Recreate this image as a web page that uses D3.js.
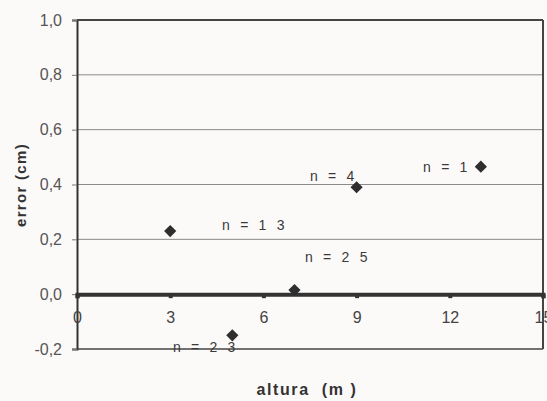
<html>
<head>
  <meta charset="utf8">
  <style>
  * { margin: 0; padding: 0; }
  body { background: #fcf9f9; }
  text { font-family: "Liberation Sans", Arial, sans-serif; }
  </style>
</head>
<body>
  <script src="https://cdn.jsdelivr.net/npm/d3@7"></script>
  <script>
  //Data
  var altura = [3, 5, 7, 9, 13];
  var errorCm = [0.23, -0.15, 0.015, 0.39, 0.465];
  var nLabels = ["n = 1 3", "n = 2 3", "n = 2 5", "n = 4", "n = 1"];
  var labelX = [4.67, 3.09, 7.34, 7.5, 11.14];     //label anchor in data units
  var labelY = [0.252, -0.193, 0.135, 0.43, 0.463];
  var xTicks = [0, 3, 6, 9, 12, 15];
  var yTicks = [-0.2, 0, 0.2, 0.4, 0.6, 0.8, 1.0];

  var w = 547, h = 401;
  var plotL = 77, plotR = 543, plotT = 20, plotB = 349;

  var xScale = d3.scaleLinear().domain([0, 15]).range([plotL, plotR]);
  var yScale = d3.scaleLinear().domain([-0.2, 1.0]).range([plotB, plotT]);

  var svg = d3.select("body").append("svg")
    .attr("width", w)
    .attr("height", h);

  //Gridlines
  svg.append("g")
    .selectAll("line")
    .data([0.2, 0.4, 0.6, 0.8])
    .enter().append("line")
    .attr("x1", plotL).attr("x2", plotR)
    .attr("y1", function(d) { return yScale(d); })
    .attr("y2", function(d) { return yScale(d); })
    .attr("stroke", "#8a8a8a")
    .attr("stroke-width", 1);

  //Y axis
  var yAxis = d3.axisLeft(yScale)
    .tickValues(yTicks)
    .tickSize(5)
    .tickFormat(function(d) { return d3.format(".1f")(d).replace(".", ",").replace("−", "-"); });
  var gy = svg.append("g")
    .attr("transform", "translate(" + plotL + ",0)")
    .call(yAxis);
  gy.select(".domain").attr("stroke", "#333").attr("stroke-width", 2);
  gy.selectAll(".tick line").attr("stroke", "#777");
  gy.selectAll(".tick text")
    .attr("x", -15)
    .attr("fill", "#555")
    .style("font-size", "16px")
    .style("font-family", "Liberation Sans, Arial, sans-serif");

  //Frame: top, right, bottom
  svg.append("line").attr("x1", plotL).attr("x2", plotR).attr("y1", plotT).attr("y2", plotT)
    .attr("stroke", "#444").attr("stroke-width", 2);
  svg.append("line").attr("x1", plotR).attr("x2", plotR).attr("y1", plotT).attr("y2", plotB)
    .attr("stroke", "#444").attr("stroke-width", 2);
  svg.append("line").attr("x1", plotL).attr("x2", plotR).attr("y1", plotB).attr("y2", plotB)
    .attr("stroke", "#444").attr("stroke-width", 1.5);

  //X axis at zero
  var xAxis = d3.axisBottom(xScale)
    .tickValues(xTicks)
    .tickSize(4)
    .tickPadding(13);
  var gx = svg.append("g")
    .attr("transform", "translate(0," + yScale(0) + ")")
    .call(xAxis);
  gx.select(".domain").attr("stroke", "#333").attr("stroke-width", 4);
  gx.selectAll(".tick line").attr("stroke", "#333").attr("stroke-width", 4);
  gx.selectAll(".tick text")
    .attr("fill", "#444")
    .style("font-size", "16px")
    .style("font-family", "Liberation Sans, Arial, sans-serif");

  //Points
  svg.selectAll("path.pt")
    .data(altura)
    .enter().append("path")
    .attr("class", "pt")
    .attr("d", d3.symbol().type(d3.symbolDiamond2).size(95))
    .attr("transform", function(d, i) {
      return "translate(" + xScale(d) + "," + yScale(errorCm[i]) + ")";
    })
    .attr("fill", "#2e2e2e");

  //n labels
  svg.selectAll("text.n")
    .data(nLabels)
    .enter().append("text")
    .attr("class", "n")
    .attr("x", function(d, i) { return xScale(labelX[i]); })
    .attr("y", function(d, i) { return yScale(labelY[i]); })
    .attr("dy", "0.35em")
    .attr("fill", "#3a3a3a")
    .style("font-size", "14px")
    .style("letter-spacing", "3.2px")
    .style("white-space", "pre")
    .text(function(d) { return d; });

  //Axis titles
  svg.append("text")
    .attr("transform", "translate(21,185) rotate(-90)")
    .attr("text-anchor", "middle")
    .attr("dy", "0.35em")
    .attr("fill", "#333")
    .style("font-size", "15px")
    .style("font-weight", "bold")
    .style("letter-spacing", "1.3px")
    .text("error (cm)");

  svg.append("text")
    .attr("x", 307)
    .attr("y", 395)
    .attr("text-anchor", "middle")
    .attr("fill", "#333")
    .style("font-size", "16px")
    .style("font-weight", "bold")
    .style("letter-spacing", "1.6px")
    .style("white-space", "pre")
    .text("altura  (m )");
  </script>
</body>
</html>
